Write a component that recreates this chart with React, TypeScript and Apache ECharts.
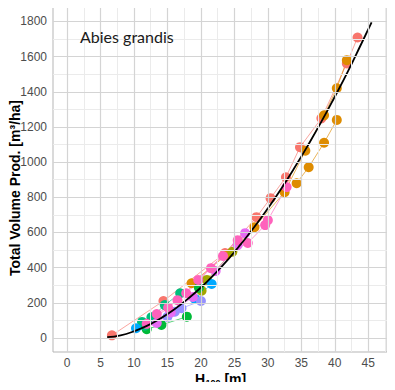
import React, { useEffect, useRef } from "react";
import * as echarts from "echarts";

// Axis ticks
const xTicks = [0, 5, 10, 15, 20, 25, 30, 35, 40, 45];
const xMinor = [2.5, 7.5, 12.5, 17.5, 22.5, 27.5, 32.5, 37.5, 42.5, 47.5];
const yTicks = [0, 200, 400, 600, 800, 1000, 1200, 1400, 1600, 1800];
const yMinor = [100, 300, 500, 700, 900, 1100, 1300, 1500, 1700, 1900];

// Fitted curve
const curveH = [6, 8, 10, 12, 14, 16, 18, 20, 22, 24, 26, 28, 30, 32, 34, 36, 38, 40, 42, 44, 45.5];
const curveV = [5, 15, 38, 70, 112, 162, 221, 287, 362, 444, 535, 632, 737, 849, 969, 1096, 1230, 1372, 1519, 1676, 1795];

// Observed plots: [H100, total volume]
const salmon1 = [[6.7, 15], [14.4, 210], [23.6, 483], [28.3, 687], [30.4, 795], [32.7, 914], [34.8, 1085], [38.0, 1249], [41.8, 1561], [43.4, 1709]];
const orange1 = [[18.6, 311], [23.8, 471], [28.0, 630], [32.5, 829], [35.6, 1065], [38.4, 1266], [40.3, 1420], [41.8, 1580]];
const orange2 = [[34.3, 880], [36.1, 971], [38.4, 1110], [40.3, 1240]];
const olive1 = [[20.1, 269], [20.9, 330], [24.7, 490]];
const green1 = [[11.9, 50], [14.1, 74], [17.9, 121]];
const green2 = [[19.7, 285]];
const teal1 = [[11.2, 91], [12.6, 117], [14.6, 187], [16.9, 254]];
const teal2 = [[11.6, 70], [13.0, 100]];
const blue1 = [[10.3, 55]];
const blue2 = [[19.1, 222], [21.6, 307]];
const purple1 = [[15.0, 120], [16.1, 149], [17.1, 169], [20.0, 210]];
const magenta1 = [[13.4, 85], [15.5, 145], [18.8, 233], [22.2, 380], [25.5, 528], [26.6, 596]];
const pink1 = [[11.9, 80], [15.1, 172], [17.8, 254], [21.5, 397], [23.3, 466], [27.0, 540], [29.6, 642]];
const pink2 = [[13.4, 136], [16.5, 215], [19.6, 330], [25.5, 556], [30.0, 670], [32.8, 858]];

const plots = [
  { data: salmon1, color: "#F8766D" },
  { data: orange1, color: "#DE8C00" },
  { data: orange2, color: "#DE8C00" },
  { data: olive1, color: "#A3A500" },
  { data: green1, color: "#00BA38" },
  { data: green2, color: "#00BA38" },
  { data: teal1, color: "#00BF7D" },
  { data: teal2, color: "#00BF7D" },
  { data: blue1, color: "#00A9FF" },
  { data: blue2, color: "#00A9FF" },
  { data: purple1, color: "#9590FF" },
  { data: magenta1, color: "#E76BF3" },
  { data: pink1, color: "#FF62BC" },
  { data: pink2, color: "#FF62BC" },
];

export default function App() {
  const ref = useRef<HTMLDivElement>(null);
  useEffect(() => {
    if (!ref.current) return;
    const chart = echarts.init(ref.current, undefined, { renderer: "svg" });
    const font = "Liberation Sans, Arial, sans-serif";
    const gridSeries: any = {
      type: "line",
      data: [],
      silent: true,
      z: 0,
      markLine: {
        silent: true,
        symbol: ["none", "none"],
        label: { show: false },
        animation: false,
        data: [
          ...xMinor.map((v) => ({ xAxis: v, lineStyle: { color: "#ebebeb", width: 1, type: "solid" } })),
          ...yMinor.map((v) => ({ yAxis: v, lineStyle: { color: "#ebebeb", width: 1, type: "solid" } })),
          ...xTicks.map((v) => ({ xAxis: v, lineStyle: { color: "#d4d4d4", width: 1.2, type: "solid" } })),
          ...yTicks.map((v) => ({ yAxis: v, lineStyle: { color: "#d4d4d4", width: 1.2, type: "solid" } })),
        ],
      },
    };
    const lineSeries = plots.map((p) => ({
      type: "line",
      data: p.data,
      symbol: "none",
      z: 2,
      lineStyle: { color: p.color, width: 1, opacity: 0.65 },
    }));
    const pointSeries = plots.map((p) => ({
      type: "scatter",
      data: p.data,
      symbol: "circle",
      symbolSize: 10,
      z: 3,
      itemStyle: { color: p.color, opacity: 1 },
    }));
    const curveSeries = {
      type: "line",
      data: curveH.map((h, i) => [h, curveV[i]]),
      symbol: "none",
      smooth: true,
      z: 4,
      lineStyle: { color: "#000", width: 1.8 },
    };
    const titleFont = "bold 14px " + font;
    chart.setOption({
      animation: false,
      grid: {
        left: 53,
        right: 8,
        top: 3,
        bottom: 38,
        show: true,
        borderColor: "#b5b5b5",
        borderWidth: 1,
        containLabel: false,
        outerBoundsMode: "none",
      },
      xAxis: {
        type: "value",
        min: -2.1,
        max: 47.8,
        splitLine: { show: false },
        axisLine: { show: false },
        axisTick: { show: true, customValues: xTicks, length: 3, lineStyle: { color: "#444" } },
        axisLabel: {
          customValues: xTicks,
          margin: 5,
          fontSize: 12,
          color: "#4d4d4d",
          fontFamily: font,
          formatter: (v: number) => String(v),
        },
      },
      yAxis: {
        type: "value",
        min: -80,
        max: 1905,
        splitLine: { show: false },
        axisLine: { show: false },
        axisTick: { show: true, customValues: yTicks, length: 3, lineStyle: { color: "#444" } },
        axisLabel: {
          customValues: yTicks,
          margin: 6,
          fontSize: 12,
          color: "#4d4d4d",
          fontFamily: font,
          formatter: (v: number) => String(v),
        },
      },
      series: [gridSeries, ...lineSeries, ...pointSeries, curveSeries],
      graphic: [
        {
          type: "text",
          left: 80,
          top: 28,
          z: 100,
          style: { text: "Abies grandis", font: "16px Lato, Carlito, sans-serif", fill: "#1a1a1a" },
        },
        {
          type: "text",
          x: 15,
          y: 188,
          z: 100,
          rotation: Math.PI / 2,
          style: {
            text: "Total Volume Prod. [m³/ha]",
            font: titleFont,
            fill: "#000",
            align: "center",
            verticalAlign: "middle",
          },
        },
        {
          type: "text",
          x: 195,
          y: 379,
          z: 100,
          style: { text: "H", font: titleFont, fill: "#000", align: "left", verticalAlign: "middle" },
        },
        {
          type: "text",
          x: 205.5,
          y: 383,
          z: 100,
          style: { text: "100", font: "bold 9px " + font, fill: "#000", align: "left", verticalAlign: "middle" },
        },
        {
          type: "text",
          x: 220.5,
          y: 379,
          z: 100,
          style: { text: " [m]", font: titleFont, fill: "#000", align: "left", verticalAlign: "middle" },
        },
      ],
    });
    return () => chart.dispose();
  }, []);
  return <div ref={ref} style={{ width: 395, height: 390, margin: -8 }} />;
}
